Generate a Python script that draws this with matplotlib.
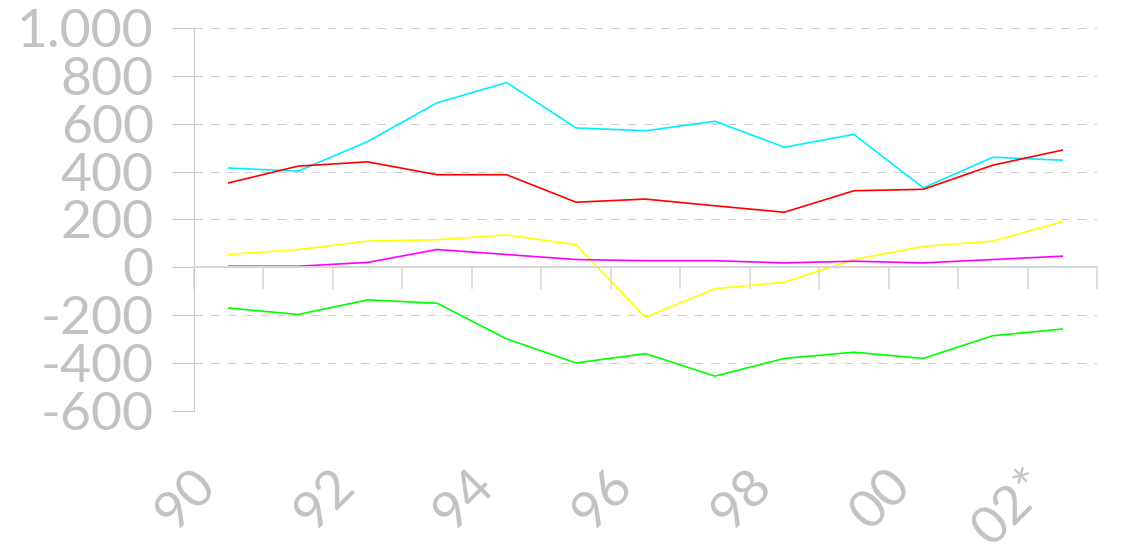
import matplotlib
matplotlib.use("Agg")
import matplotlib.pyplot as plt

# ---- data ----
categories = ["90", "91", "92", "93", "94", "95", "96", "97", "98", "99", "00", "01", "02*"]
cyan_vals = [415, 402, 526, 688, 773, 583, 571, 611, 502, 556, 332, 460, 448]
red_vals = [353, 423, 441, 387, 387, 272, 285, 257, 230, 320, 326, 427, 490]
yellow_vals = [53, 74, 109, 115, 135, 94, -210, -90, -63, 32, 87, 109, 190]
magenta_vals = [4, 4, 20, 74, 53, 32, 27, 27, 18, 25, 18, 32, 46]
green_vals = [-171, -198, -137, -151, -300, -401, -362, -456, -382, -356, -382, -287, -259]
y_ticks = [-600, -400, -200, 0, 200, 400, 600, 800, 1000]
y_tick_labels = ["-600", "-400", "-200", "0", "200", "400", "600", "800", "1.000"]

series = [
    (cyan_vals, "#00f0ff"),
    (red_vals, "#ff0000"),
    (yellow_vals, "#ffff00"),
    (magenta_vals, "#ff00ff"),
    (green_vals, "#00ff00"),
]

FONT = "Lato"
LABEL_COLOR = "#c2c2c2"
AXIS_COLOR = "#c8c8c8"
GRID_COLOR = "#d0d0d0"
FS = 38.5

W, H = 1127, 553
fig = plt.figure(figsize=(W / 100, H / 100), dpi=100)
left, right, top, bottom = 194, 1097, 28.3, 410.5
ax = fig.add_axes([left / W, 1 - bottom / H, (right - left) / W, (bottom - top) / H])

x = list(range(len(categories)))
for vals, col in series:
    ax.plot(x, vals, color=col, lw=1.2, solid_joinstyle="miter")

ax.set_xlim(-0.5, len(categories) - 0.5)
ax.set_ylim(-600, 1000)

# y axis
ax.set_yticks(y_ticks)
ax.set_yticklabels(y_tick_labels, fontfamily=FONT, fontsize=FS, color=LABEL_COLOR)
ax.tick_params(axis="y", length=16, width=0.8, color=AXIS_COLOR, pad=13)
ax.yaxis.grid(True, color=GRID_COLOR, lw=0.75, linestyle=(0, (8, 8)))
ax.set_axisbelow(True)

# x axis on zero
ax.spines["bottom"].set_position(("data", 0))
ax.spines["bottom"].set_color("#d8d8d8")
ax.spines["bottom"].set_linewidth(1.4)
ax.spines["left"].set_color(AXIS_COLOR)
ax.spines["left"].set_linewidth(0.8)
ax.spines["top"].set_visible(False)
ax.spines["right"].set_visible(False)
ax.set_xticks([i - 0.5 for i in range(len(categories) + 1)])
ax.set_xticklabels([])
ax.tick_params(axis="x", length=16, width=1.2, color="#d8d8d8", direction="out")

# rotated category labels, every other one
xt = ax.get_xaxis_transform()
for i, lab in enumerate(categories):
    if i % 2 == 0:
        ax.text(i - 0.3, -0.176, lab, transform=xt, rotation=45, rotation_mode="anchor",
                ha="right", va="center", fontfamily=FONT, fontsize=FS, color=LABEL_COLOR,
                clip_on=False)

fig.savefig("out.png", dpi=100)
